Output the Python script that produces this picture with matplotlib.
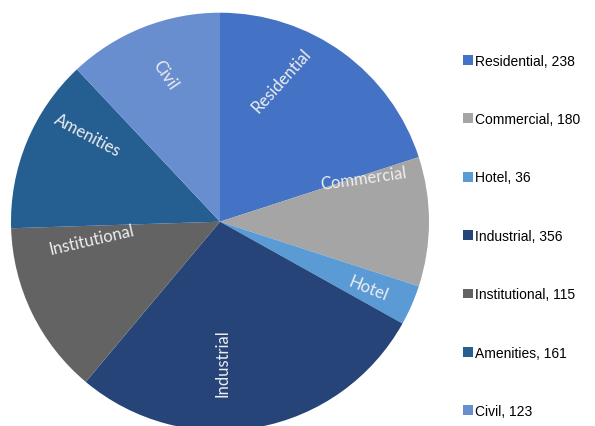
import matplotlib
matplotlib.use("Agg")
import matplotlib.pyplot as plt
import numpy as np

# categories and the numbers printed in the legend
CATEGORIES = ["Residential", "Commercial", "Hotel", "Industrial", "Institutional", "Amenities", "Civil"]
LEGEND_NUMBERS = [238, 180, 36, 356, 115, 161, 123]
# slice sizes (percent of the circle)
SLICE_SHARES = [20.0, 10.0, 3.1, 28.0, 13.4, 13.5, 12.0]
COLORS = ["#4472C4", "#A5A5A5", "#5B9BD5", "#264478", "#636363", "#255E91", "#698ED0"]

# where the slice labels sit: (angle offset from slice middle, radius fraction, text rotation)
LABEL_NUDGE = [(12.5, 0.74, 48), (16.8, 0.72, 8), (-0.5, 0.775, -22), (-9.3, 0.67, 90),
               (-17.9, 0.62, 13), (-10.7, 0.76, -28), (-1.3, 0.75, -56)]

W, H = 595, 427
fig = plt.figure(figsize=(W / 100, H / 100), dpi=100)
ax = fig.add_axes([0, 0, 1, 1])

cx, cy, r = 220, H - 222.7, 209
wedges, _ = ax.pie(
    SLICE_SHARES,
    colors=COLORS,
    startangle=90,
    counterclock=False,
    center=(cx, cy),
    radius=r,
    frame=True,
    wedgeprops=dict(linewidth=0),
)
ax.set_xlim(0, W)
ax.set_ylim(0, H)
ax.axis("off")

# labels inside the slices
for w, name, (da, fr, rot) in zip(wedges, CATEGORIES, LABEL_NUDGE):
    mid = (w.theta1 + w.theta2) / 2 + da
    t = np.deg2rad(mid)
    x = cx + fr * r * np.cos(t)
    y = cy + fr * r * np.sin(t)
    ax.text(x, y, name, rotation=rot, rotation_mode="anchor", ha="center", va="center",
            color="#EEEEEE", fontsize=12, family="Lato")

labels = [f"{c}, {n}" for c, n in zip(CATEGORIES, LEGEND_NUMBERS)]
ax.legend(
    wedges, labels,
    loc="upper left",
    bbox_to_anchor=(457 / W, 1 - 49 / H),
    frameon=False,
    handlelength=0.72,
    handleheight=0.72,
    handletextpad=0.2,
    labelspacing=3.2,
    borderaxespad=0,
    prop=dict(family="Liberation Sans", size=10),
)

fig.savefig("out.png", dpi=100)
